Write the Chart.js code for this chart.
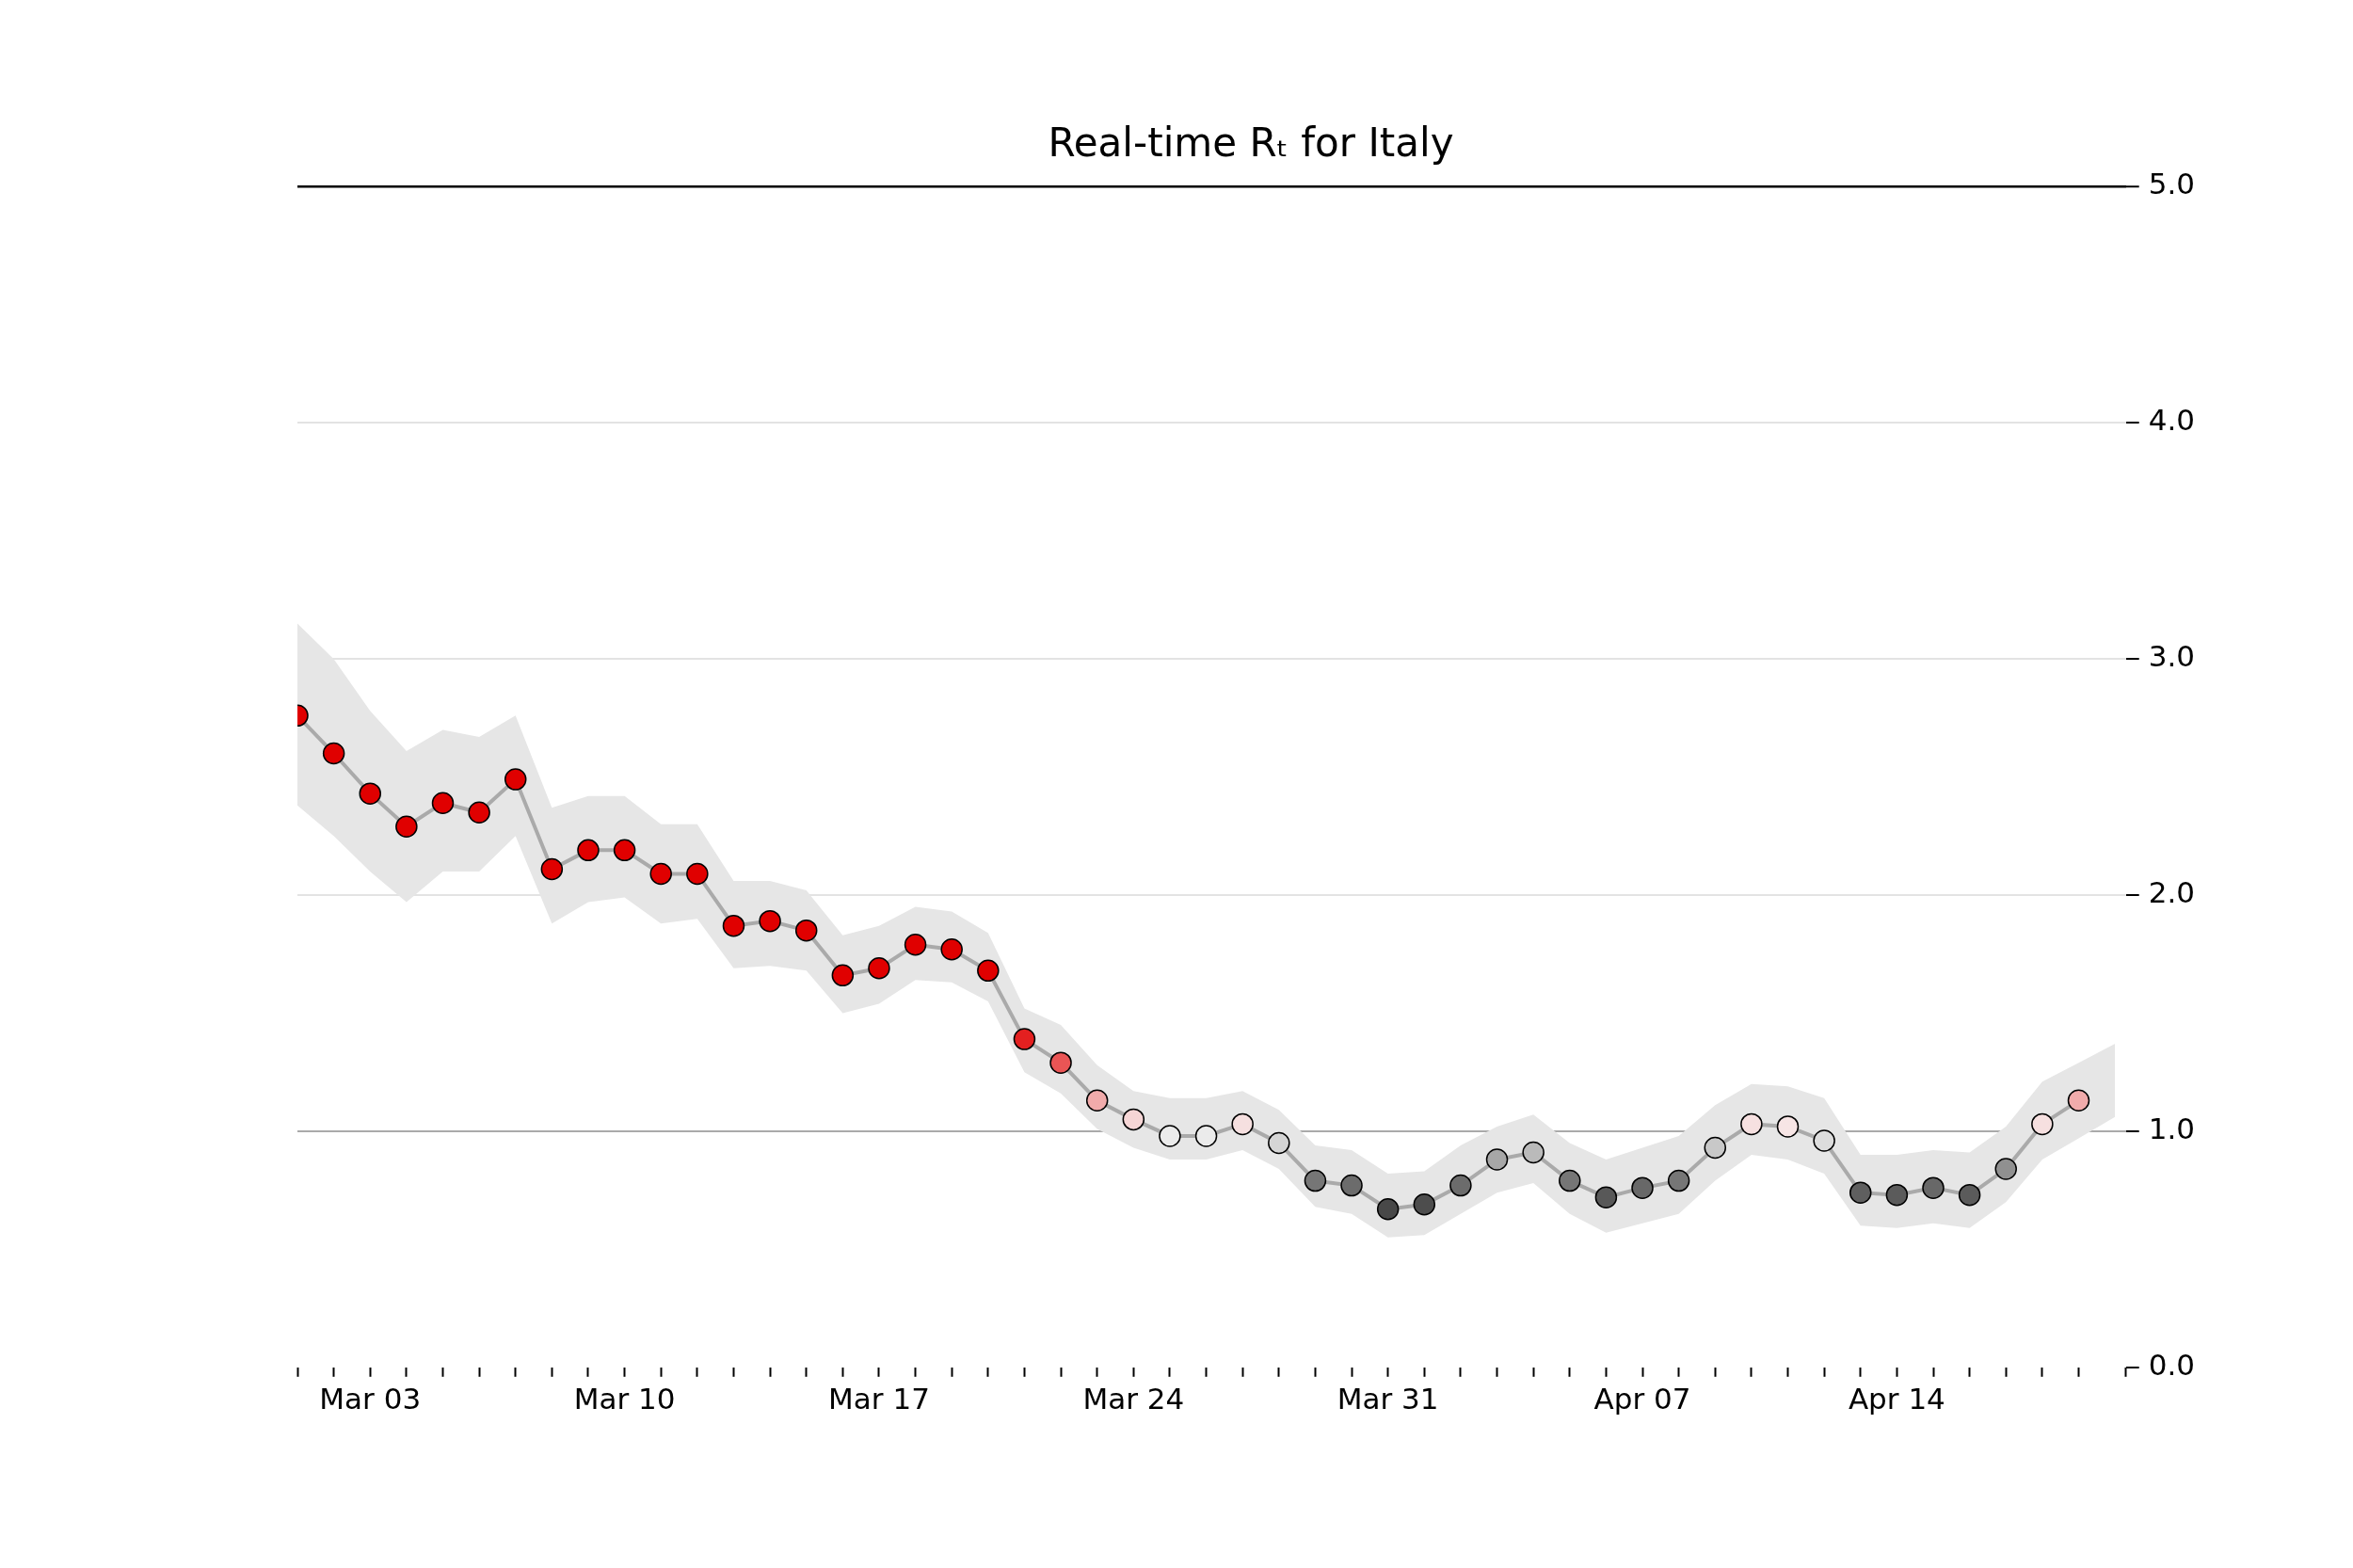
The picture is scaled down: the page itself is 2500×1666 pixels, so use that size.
<!DOCTYPE html>
<html lang="en">
<head>
<meta charset="UTF-8">
<title>Real-time Rt for Italy</title>
<style>
  html, body { margin: 0; padding: 0; background: #fff; }
  #wrap { width: 2500px; height: 1666px; }
</style>
</head>
<body>
<div id="wrap"><canvas id="rt"></canvas></div>
<script src="https://cdn.jsdelivr.net/npm/chart.js"></script>
<script>
// day index 0 = Mar 01
const monthDays = ['Mar 01','Mar 02','Mar 03','Mar 04','Mar 05','Mar 06','Mar 07','Mar 08','Mar 09','Mar 10',
  'Mar 11','Mar 12','Mar 13','Mar 14','Mar 15','Mar 16','Mar 17','Mar 18','Mar 19','Mar 20',
  'Mar 21','Mar 22','Mar 23','Mar 24','Mar 25','Mar 26','Mar 27','Mar 28','Mar 29','Mar 30','Mar 31',
  'Apr 01','Apr 02','Apr 03','Apr 04','Apr 05','Apr 06','Apr 07','Apr 08','Apr 09','Apr 10',
  'Apr 11','Apr 12','Apr 13','Apr 14','Apr 15','Apr 16','Apr 17','Apr 18','Apr 19','Apr 20'];

const rtValues = [2.76, 2.60, 2.43, 2.29, 2.39, 2.35, 2.49, 2.11, 2.19, 2.19,
  2.09, 2.09, 1.87, 1.89, 1.85, 1.66, 1.69, 1.79, 1.77, 1.68,
  1.39, 1.29, 1.13, 1.05, 0.98, 0.98, 1.03, 0.95, 0.79, 0.77, 0.67,
  0.69, 0.77, 0.88, 0.91, 0.79, 0.72, 0.76, 0.79, 0.93, 1.03,
  1.02, 0.96, 0.74, 0.73, 0.76, 0.73, 0.84, 1.03, 1.13];

const bandHigh = [3.15, 3.00, 2.78, 2.61, 2.70, 2.67, 2.76, 2.37, 2.42, 2.42,
  2.30, 2.30, 2.06, 2.06, 2.02, 1.83, 1.87, 1.95, 1.93, 1.84,
  1.52, 1.45, 1.28, 1.17, 1.14, 1.14, 1.17, 1.09, 0.94, 0.92, 0.82,
  0.83, 0.94, 1.02, 1.07, 0.95, 0.88, 0.93, 0.98, 1.11, 1.20,
  1.19, 1.14, 0.90, 0.90, 0.92, 0.91, 1.02, 1.21, 1.29, 1.37];

const bandLow = [2.38, 2.25, 2.10, 1.97, 2.10, 2.10, 2.25, 1.88, 1.97, 1.99,
  1.88, 1.90, 1.69, 1.70, 1.68, 1.50, 1.54, 1.64, 1.63, 1.55,
  1.25, 1.16, 1.01, 0.93, 0.88, 0.88, 0.92, 0.84, 0.68, 0.65, 0.55,
  0.56, 0.65, 0.74, 0.78, 0.65, 0.57, 0.61, 0.65, 0.79, 0.90,
  0.88, 0.82, 0.60, 0.59, 0.61, 0.59, 0.70, 0.88, 0.97, 1.06];

const yTicks = [0, 1, 2, 3, 4, 5];

function pointColor(v) {
  // grey (low) -> white (1.0) -> red (high)
  if (v <= 1) {
    const t = Math.max(0, Math.min(1, (v - 0.6) / 0.4));
    const g = Math.round(60 + Math.pow(t, 1.6) * 190);
    return 'rgb(' + g + ',' + g + ',' + g + ')';
  }
  const t = Math.max(0, Math.min(1, (v - 1) / 0.45));
  const r = Math.round(248 - t * 24);
  const gb = Math.round(240 * (1 - t));
  return 'rgb(' + r + ',' + gb + ',' + gb + ')';
}

const toXY = arr => arr.map((v, i) => ({ x: i, y: v }));

new Chart(document.getElementById('rt'), {
  type: 'line',
  data: {
    datasets: [
      {
        data: toXY(rtValues),
        borderColor: '#aaaaaa',
        borderWidth: 4,
        pointRadius: 11,
        pointBorderWidth: 1.5,
        pointBorderColor: '#000',
        pointBackgroundColor: rtValues.map(pointColor),
        fill: false
      },
      { data: toXY(bandLow), borderWidth: 0, pointRadius: 0, fill: false, borderColor: 'rgba(0,0,0,0)' },
      { data: toXY(bandHigh), borderWidth: 0, pointRadius: 0, fill: '-1', borderColor: 'rgba(0,0,0,0)', backgroundColor: '#e6e6e6' }
    ]
  },
  options: {
    responsive: true,
    maintainAspectRatio: false,
    animation: false,
    layout: { padding: { left: 316, right: 158, bottom: 150 } },
    plugins: {
      legend: { display: false },
      tooltip: { enabled: false },
      title: {
        display: true,
        text: 'Real-time Rₜ for Italy',
        color: '#000',
        font: { family: 'DejaVu Sans', size: 42, weight: 'normal' },
        padding: { top: 130, bottom: 18 }
      }
    },
    scales: {
      x: {
        type: 'linear',
        min: 0,
        max: 50.3,
        ticks: {
          stepSize: 1,
          autoSkip: false,
          maxRotation: 0,
          color: '#000',
          padding: 8,
          font: { family: 'DejaVu Sans', size: 31 },
          callback: v => (Number.isInteger(v) && (v - 2) % 7 === 0) ? monthDays[v] : ''
        },
        grid: {
          drawOnChartArea: false,
          tickLength: 10,
          tickWidth: 2,
          tickColor: '#000'
        },
        border: { display: false }
      },
      y: {
        position: 'right',
        min: 0,
        max: 5,
        afterBuildTicks: axis => { axis.ticks = yTicks.map(v => ({ value: v })); },
        ticks: {
          color: '#000',
          padding: 10,
          font: { family: 'DejaVu Sans', size: 31 },
          callback: v => v.toFixed(1)
        },
        grid: {
          color: c => c.tick.value === 5 ? '#000' : c.tick.value === 1 ? '#aaaaaa' : c.tick.value === 0 ? 'rgba(0,0,0,0)' : '#e3e3e3',
          lineWidth: c => c.tick.value === 5 ? 2.5 : 2,
          tickLength: 14,
          tickColor: '#000',
          tickWidth: 2
        },
        border: { display: false }
      }
    }
  }
});
</script>
</body>
</html>
